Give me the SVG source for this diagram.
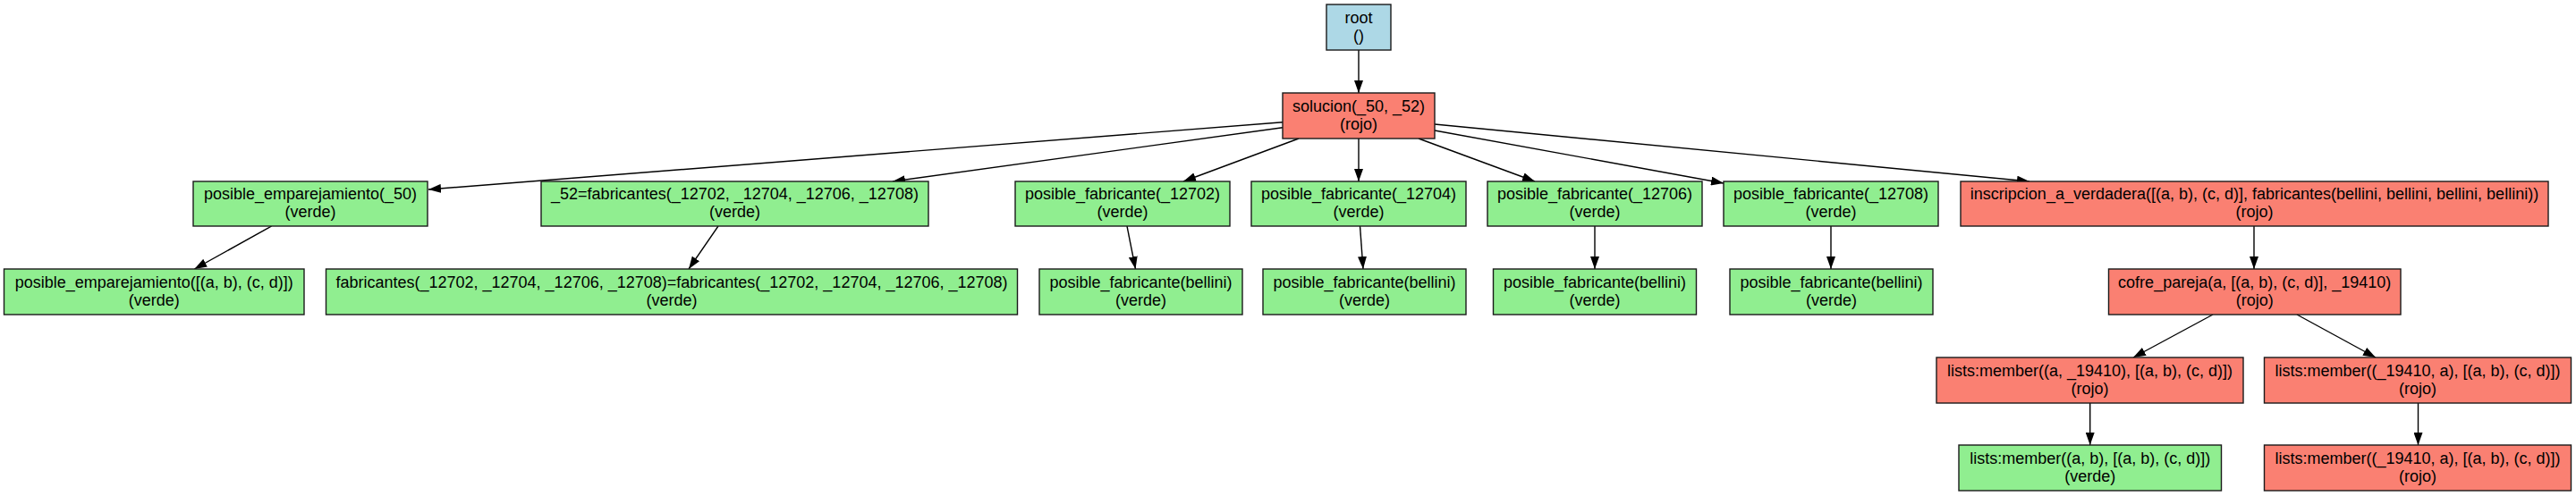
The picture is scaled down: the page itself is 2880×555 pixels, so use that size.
<svg xmlns="http://www.w3.org/2000/svg" width="2880" height="555" viewBox="0 0 2880 555">
<style>
.n rect{stroke:#1a1a1a;stroke-width:1.4}
.blue{fill:#add8e6}.red{fill:#fa8072}.green{fill:#90ee90}
text{font-family:"Liberation Sans",Arial,sans-serif;font-size:18px;fill:#000;text-anchor:middle}
#edges line{stroke:#000;stroke-width:1.4;marker-end:url(#ah)}
</style>
<defs>
<marker id="ah" markerWidth="14" markerHeight="10" refX="14" refY="5" orient="auto" markerUnits="userSpaceOnUse"><path d="M0,0 L14,5 L0,10 z" fill="#000"/></marker>
</defs>
<rect width="2880" height="555" fill="#fff"/>
<g id="edges">
<line x1="1519" y1="56" x2="1519" y2="104"/>
<line x1="1434" y1="136.7" x2="479" y2="212"/>
<line x1="1434" y1="142.7" x2="998" y2="203"/>
<line x1="1452" y1="155" x2="1323" y2="203"/>
<line x1="1519" y1="155" x2="1519" y2="203"/>
<line x1="1586" y1="155" x2="1716" y2="203"/>
<line x1="1604" y1="146" x2="1927" y2="205"/>
<line x1="1604" y1="139" x2="2269" y2="203"/>
<line x1="303.6" y1="253" x2="217.4" y2="301"/>
<line x1="803" y1="253" x2="770" y2="301"/>
<line x1="1260" y1="253" x2="1269.5" y2="301"/>
<line x1="1520.5" y1="253" x2="1524" y2="301"/>
<line x1="1783" y1="253" x2="1783" y2="301"/>
<line x1="2047" y1="253" x2="2047" y2="301"/>
<line x1="2520" y1="253" x2="2520" y2="301"/>
<line x1="2474" y1="352" x2="2385" y2="400"/>
<line x1="2568" y1="352" x2="2656" y2="400"/>
<line x1="2336.7" y1="451" x2="2336.7" y2="498"/>
<line x1="2703.5" y1="451" x2="2703.5" y2="498"/>
</g>
<g id="root" class="n"><rect class="blue" x="1483" y="5" width="72" height="51"/><text x="1519" y="25.5">root</text><text x="1519" y="45.5">()</text></g>
<g id="solucion" class="n"><rect class="red" x="1434" y="104" width="170" height="51"/><text x="1519" y="124.5">solucion(_50, _52)</text><text x="1519" y="144.5">(rojo)</text></g>
<g id="pe50" class="n"><rect class="green" x="216" y="203" width="262" height="50"/><text x="347" y="223">posible_emparejamiento(_50)</text><text x="347" y="243">(verde)</text></g>
<g id="fab52" class="n"><rect class="green" x="605" y="203" width="433" height="50"/><text x="821.5" y="223">_52=fabricantes(_12702, _12704, _12706, _12708)</text><text x="821.5" y="243">(verde)</text></g>
<g id="pf12702" class="n"><rect class="green" x="1135" y="203" width="240" height="50"/><text x="1255" y="223">posible_fabricante(_12702)</text><text x="1255" y="243">(verde)</text></g>
<g id="pf12704" class="n"><rect class="green" x="1399" y="203" width="240" height="50"/><text x="1519" y="223">posible_fabricante(_12704)</text><text x="1519" y="243">(verde)</text></g>
<g id="pf12706" class="n"><rect class="green" x="1663" y="203" width="240" height="50"/><text x="1783" y="223">posible_fabricante(_12706)</text><text x="1783" y="243">(verde)</text></g>
<g id="pf12708" class="n"><rect class="green" x="1927" y="203" width="240" height="50"/><text x="2047" y="223">posible_fabricante(_12708)</text><text x="2047" y="243">(verde)</text></g>
<g id="inscripcion" class="n"><rect class="red" x="2192" y="203" width="657" height="50"/><text x="2520.5" y="223">inscripcion_a_verdadera([(a, b), (c, d)], fabricantes(bellini, bellini, bellini, bellini))</text><text x="2520.5" y="243">(rojo)</text></g>
<g id="pe_list" class="n"><rect class="green" x="4.5" y="301" width="335.5" height="51"/><text x="172.3" y="321.5">posible_emparejamiento([(a, b), (c, d)])</text><text x="172.3" y="341.5">(verde)</text></g>
<g id="fab_eq" class="n"><rect class="green" x="364.5" y="301" width="773" height="51"/><text x="751" y="321.5">fabricantes(_12702, _12704, _12706, _12708)=fabricantes(_12702, _12704, _12706, _12708)</text><text x="751" y="341.5">(verde)</text></g>
<g id="pfb1" class="n"><rect class="green" x="1162" y="301" width="227" height="51"/><text x="1275.5" y="321.5">posible_fabricante(bellini)</text><text x="1275.5" y="341.5">(verde)</text></g>
<g id="pfb2" class="n"><rect class="green" x="1412" y="301" width="227" height="51"/><text x="1525.5" y="321.5">posible_fabricante(bellini)</text><text x="1525.5" y="341.5">(verde)</text></g>
<g id="pfb3" class="n"><rect class="green" x="1669.5" y="301" width="227" height="51"/><text x="1783" y="321.5">posible_fabricante(bellini)</text><text x="1783" y="341.5">(verde)</text></g>
<g id="pfb4" class="n"><rect class="green" x="1934" y="301" width="227" height="51"/><text x="2047.5" y="321.5">posible_fabricante(bellini)</text><text x="2047.5" y="341.5">(verde)</text></g>
<g id="cofre" class="n"><rect class="red" x="2357.5" y="301" width="326.5" height="51"/><text x="2520.7" y="321.5">cofre_pareja(a, [(a, b), (c, d)], _19410)</text><text x="2520.7" y="341.5">(rojo)</text></g>
<g id="lm1" class="n"><rect class="red" x="2165" y="400" width="343" height="51"/><text x="2336.5" y="420.5">lists:member((a, _19410), [(a, b), (c, d)])</text><text x="2336.5" y="440.5">(rojo)</text></g>
<g id="lm2" class="n"><rect class="red" x="2531.5" y="400" width="343" height="51"/><text x="2703" y="420.5">lists:member((_19410, a), [(a, b), (c, d)])</text><text x="2703" y="440.5">(rojo)</text></g>
<g id="lm_verde" class="n"><rect class="green" x="2190" y="498" width="293.5" height="51"/><text x="2336.7" y="518.5">lists:member((a, b), [(a, b), (c, d)])</text><text x="2336.7" y="538.5">(verde)</text></g>
<g id="lm2b" class="n"><rect class="red" x="2531.5" y="498" width="343" height="51"/><text x="2703" y="518.5">lists:member((_19410, a), [(a, b), (c, d)])</text><text x="2703" y="538.5">(rojo)</text></g>
</svg>
